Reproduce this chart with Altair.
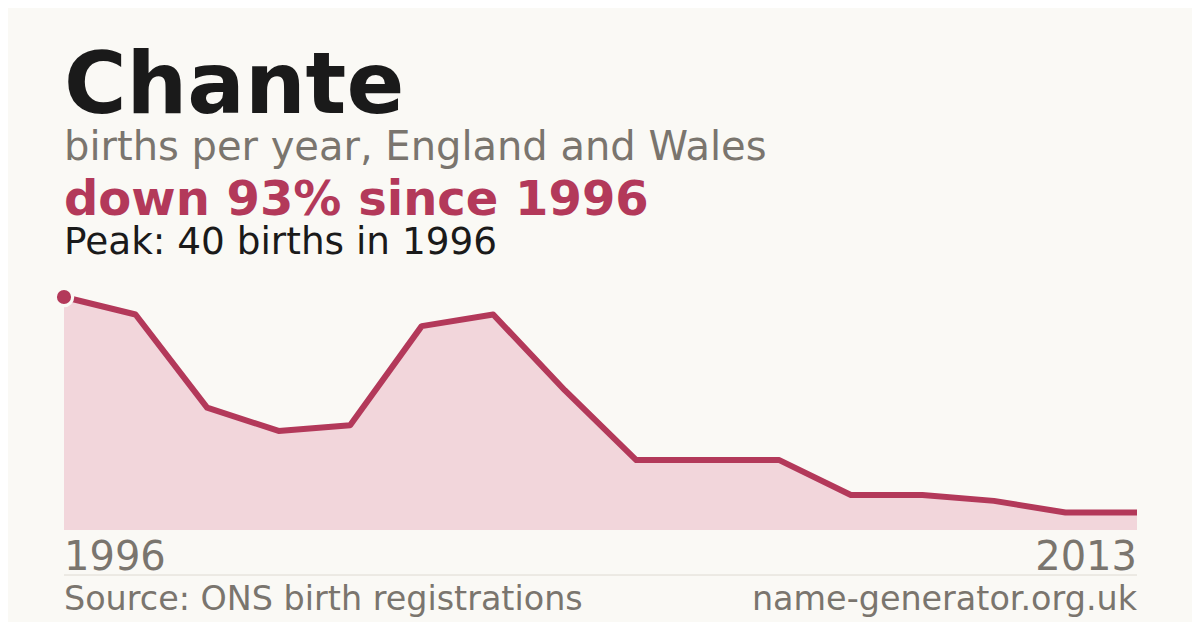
import altair as alt
import pandas as pd

# ---- data ----
first_year = 1996
last_year = 2013
births = [40, 37, 21, 17, 18, 35, 37, 24, 12, 12, 12, 6, 6, 5, 3, 3]
name = "Chante"
subtitle = "births per year, England and Wales"
change_text = "down 93% since 1996"
peak_text = "Peak: 40 births in 1996"
source_text = "Source: ONS birth registrations"
site_text = "name-generator.org.uk"

df = pd.DataFrame({"i": list(range(len(births))), "births": births})

BG = "#faf9f5"
RED = "#b3395a"
FILL = "#f2d6db"
GRAY = "#7a756e"
DARK = "#1a1a1a"
FONT = "DejaVu Sans"

W, H = 1184, 614
OFF = 8  # page margin

xs = alt.Scale(domain=[0, len(births) - 1], range=[64 - OFF, 1137 - OFF])
ys = alt.Scale(domain=[0, 40], range=[530 - OFF, 297 - OFF])

base = alt.Chart(df)
X = alt.X("i:Q", scale=xs, axis=None)
Y = alt.Y("births:Q", scale=ys, axis=None)

area = base.mark_area(color=FILL, opacity=1).encode(x=X, y=Y)
line = base.mark_line(color=RED, strokeWidth=6, strokeJoin="round").encode(x=X, y=Y)
ring = base.transform_filter("datum.i == 0").mark_point(
    filled=True, color=BG, size=420, opacity=1, shape="circle", strokeWidth=0
).encode(x=X, y=Y)
pt = base.transform_filter("datum.i == 0").mark_point(
    filled=True, color=RED, size=200, opacity=1, shape="circle", strokeWidth=0
).encode(x=X, y=Y)


def txt(text, x, y, size, color, weight="normal", align="left"):
    return alt.Chart(pd.DataFrame({"t": [text]})).mark_text(
        font=FONT, fontSize=size, color=color, fontWeight=weight,
        align=align, baseline="alphabetic"
    ).encode(text="t:N", x=alt.value(x - OFF), y=alt.value(y - OFF))


divider = alt.Chart(pd.DataFrame({"a": [0]})).mark_rule(color="#dedad2", strokeWidth=1).encode(
    x=alt.value(64 - OFF), x2=alt.value(1137 - OFF), y=alt.value(575 - OFF)
)

layers = [
    area, line, ring, pt,
    txt(name, 64, 113, 85.3, DARK, "bold"),
    txt(subtitle, 64, 160, 40, GRAY),
    txt(change_text, 64, 215, 48, RED, "bold"),
    txt(peak_text, 64, 254, 37.4, DARK),
    txt(str(first_year), 64, 570, 40, GRAY),
    txt(str(last_year), 1137, 570, 40, GRAY, align="right"),
    divider,
    txt(source_text, 64, 610, 33.4, GRAY),
    txt(site_text, 1137, 610, 33.4, GRAY, align="right"),
]

chart = alt.layer(*layers).properties(
    width=W, height=H, background=BG, padding=0,
    autosize=alt.AutoSizeParams(type="none"),
).configure_view(stroke=None)

chart.save("out.html", embed_options={"renderer": "svg", "actions": False})
